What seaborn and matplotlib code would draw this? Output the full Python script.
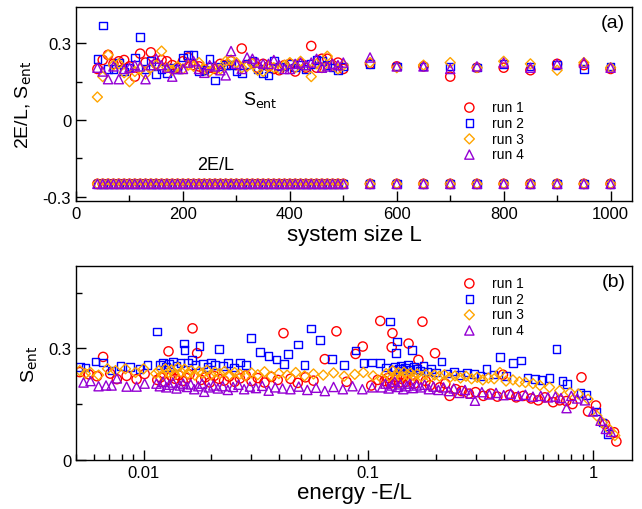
import matplotlib
matplotlib.use("Agg")
import matplotlib.pyplot as plt
import matplotlib.ticker as mticker
import seaborn as sns
import pandas as pd

# ---- panel (a): S_ent and 2E/L vs system size L ----
L = [40, 50, 60, 70, 80, 90, 100, 110, 120, 130, 140, 150, 160, 170, 180, 190,
     200, 210, 220, 230, 240, 250, 260, 270, 280, 290, 300, 310, 320, 330, 340,
     350, 360, 370, 380, 390, 400, 410, 420, 430, 440, 450, 460, 470, 480, 490,
     500, 550, 600, 650, 700, 750, 800, 850, 900, 950, 1000]

sent_a1 = [0.200, 0.235, 0.255, 0.220, 0.230, 0.235, 0.210, 0.170, 0.260, 0.225,
           0.265, 0.220, 0.235, 0.230, 0.215, 0.205, 0.230, 0.245, 0.215, 0.210,
           0.195, 0.205, 0.200, 0.220, 0.215, 0.230, 0.215, 0.280, 0.215, 0.225,
           0.205, 0.220, 0.210, 0.200, 0.195, 0.215, 0.220, 0.190, 0.220, 0.205,
           0.290, 0.205, 0.240, 0.240, 0.215, 0.225, 0.200,
           0.220, 0.210, 0.210, 0.170, 0.205, 0.205, 0.195, 0.220, 0.215, 0.200]
sent_a2 = [0.240, 0.370, 0.200, 0.200, 0.225, 0.190, 0.205, 0.245, 0.325, 0.200,
           0.230, 0.180, 0.200, 0.185, 0.205, 0.200, 0.245, 0.255, 0.255, 0.190,
           0.195, 0.240, 0.155, 0.210, 0.215, 0.215, 0.190, 0.185, 0.220, 0.230,
           0.200, 0.185, 0.175, 0.230, 0.210, 0.210, 0.220, 0.205, 0.215, 0.200,
           0.220, 0.235, 0.230, 0.215, 0.205, 0.195, 0.210,
           0.220, 0.210, 0.210, 0.210, 0.205, 0.220, 0.210, 0.215, 0.200, 0.210]
sent_a3 = [0.090, 0.170, 0.255, 0.215, 0.220, 0.185, 0.150, 0.190, 0.200, 0.180,
           0.205, 0.215, 0.270, 0.205, 0.195, 0.210, 0.200, 0.215, 0.210, 0.225,
           0.200, 0.190, 0.205, 0.200, 0.230, 0.235, 0.225, 0.205, 0.210, 0.220,
           0.195, 0.190, 0.210, 0.205, 0.200, 0.215, 0.225, 0.205, 0.230, 0.210,
           0.170, 0.220, 0.205, 0.250, 0.215, 0.200, 0.215,
           0.225, 0.205, 0.215, 0.225, 0.205, 0.230, 0.220, 0.195, 0.225, 0.205]
sent_a4 = [0.205, 0.190, 0.160, 0.210, 0.160, 0.200, 0.205, 0.215, 0.210, 0.160,
           0.215, 0.240, 0.215, 0.205, 0.170, 0.200, 0.200, 0.225, 0.230, 0.200,
           0.185, 0.215, 0.210, 0.195, 0.175, 0.270, 0.220, 0.200, 0.245, 0.240,
           0.225, 0.220, 0.220, 0.235, 0.215, 0.200, 0.200, 0.220, 0.225, 0.215,
           0.225, 0.240, 0.205, 0.210, 0.220, 0.215, 0.225,
           0.245, 0.210, 0.210, 0.200, 0.210, 0.225, 0.205, 0.220, 0.225, 0.205]
# 2E/L sits flat at about -0.25 for every run and every L
e2l = [-0.25] * len(L)

# ---- panel (b): S_ent vs energy -E/L ----
E1 = [0.0052, 0.0057, 0.0062, 0.0066, 0.0071, 0.0076, 0.0084, 0.0093, 0.0101,
      0.0115, 0.0119, 0.0124, 0.0129, 0.0133, 0.0138, 0.0143, 0.0149, 0.0155, 0.0160,
      0.0165, 0.0173, 0.0180, 0.0188, 0.0197, 0.0206, 0.0216, 0.0228, 0.0240, 0.0254,
      0.0268, 0.0285, 0.0302, 0.0322, 0.0345, 0.0370, 0.0395, 0.0419, 0.0450, 0.0485,
      0.0525, 0.0570, 0.0640, 0.0721, 0.0800, 0.0877, 0.0944, 0.1030, 0.1100,
      0.1130, 0.1180, 0.1220, 0.1250, 0.1270, 0.1280, 0.1310, 0.1340, 0.1370, 0.1400,
      0.1430, 0.1470, 0.1510, 0.1550, 0.1600, 0.1670, 0.1740, 0.1800, 0.1880, 0.1980,
      0.2080, 0.2200, 0.2300, 0.2450, 0.2600, 0.2800, 0.3000, 0.3250, 0.3500, 0.3750,
      0.3970, 0.4250, 0.4550, 0.4900, 0.5300, 0.5700, 0.6100, 0.6640, 0.7100, 0.7600,
      0.8100, 0.8880, 0.9500, 1.0300, 1.1300, 1.2400, 1.2700]
S1 = [0.236, 0.230, 0.225, 0.277, 0.232, 0.217, 0.226, 0.217, 0.231,
      0.215, 0.222, 0.210, 0.292, 0.225, 0.218, 0.228, 0.212, 0.220, 0.230,
      0.354, 0.287, 0.215, 0.222, 0.208, 0.226, 0.218, 0.213, 0.224, 0.210,
      0.219, 0.227, 0.212, 0.220, 0.208, 0.223, 0.215, 0.341, 0.218, 0.207,
      0.222, 0.213, 0.271, 0.346, 0.210, 0.285, 0.305, 0.200, 0.215,
      0.374, 0.212, 0.220, 0.205, 0.303, 0.341, 0.215, 0.222, 0.208, 0.218,
      0.225, 0.210, 0.313, 0.216, 0.205, 0.269, 0.372, 0.212, 0.200, 0.287,
      0.195, 0.205, 0.172, 0.190, 0.185, 0.178, 0.182, 0.172, 0.178, 0.170,
      0.229, 0.175, 0.168, 0.172, 0.165, 0.160, 0.168, 0.155, 0.160, 0.158,
      0.150, 0.222, 0.130, 0.146, 0.096, 0.074, 0.049]

E2 = [0.0052, 0.0055, 0.0061, 0.0066, 0.0072, 0.0079, 0.0087, 0.0096, 0.0104,
      0.0115, 0.0118, 0.0122, 0.0126, 0.0130, 0.0135, 0.0140, 0.0146, 0.0151, 0.0152,
      0.0158, 0.0164, 0.0170, 0.0177, 0.0184, 0.0192, 0.0200, 0.0208, 0.0216, 0.0226,
      0.0238, 0.0252, 0.0268, 0.0285, 0.0300, 0.0330, 0.0360, 0.0390, 0.0420, 0.0440,
      0.0487, 0.0520, 0.0555, 0.0609, 0.0690, 0.0780, 0.0877, 0.0950, 0.1040, 0.1130,
      0.1200, 0.1250, 0.1280, 0.1310, 0.1330, 0.1340, 0.1370, 0.1400, 0.1430, 0.1460,
      0.1500, 0.1530, 0.1560, 0.1600, 0.1650, 0.1700, 0.1760, 0.1830, 0.1900, 0.2000,
      0.2120, 0.2250, 0.2400, 0.2550, 0.2750, 0.2960, 0.3150, 0.3360, 0.3600, 0.3850,
      0.4100, 0.4390, 0.4770, 0.5100, 0.5500, 0.5900, 0.6400, 0.6880, 0.7300, 0.7660,
      0.8790, 0.9300, 1.0300, 1.1000, 1.1600]
S2 = [0.250, 0.248, 0.265, 0.262, 0.240, 0.252, 0.250, 0.245, 0.255,
      0.346, 0.255, 0.262, 0.250, 0.258, 0.265, 0.252, 0.260, 0.313, 0.295,
      0.262, 0.268, 0.255, 0.307, 0.258, 0.250, 0.262, 0.255, 0.299, 0.252,
      0.260, 0.248, 0.262, 0.255, 0.328, 0.290, 0.280, 0.270, 0.258, 0.285,
      0.310, 0.255, 0.354, 0.323, 0.271, 0.255, 0.294, 0.260, 0.262, 0.260,
      0.248, 0.372, 0.242, 0.250, 0.287, 0.319, 0.245, 0.252, 0.240, 0.248,
      0.255, 0.243, 0.296, 0.250, 0.245, 0.240, 0.252, 0.238, 0.245, 0.235,
      0.265, 0.232, 0.238, 0.228, 0.235, 0.231, 0.225, 0.244, 0.230, 0.276,
      0.225, 0.260, 0.267, 0.222, 0.218, 0.215, 0.220, 0.298, 0.212, 0.204,
      0.180, 0.175, 0.130, 0.100, 0.069]

E3 = [0.0052, 0.0055, 0.0058, 0.0063, 0.0069, 0.0075, 0.0083, 0.0092, 0.0100,
      0.0113, 0.0117, 0.0121, 0.0125, 0.0129, 0.0133, 0.0137, 0.0142, 0.0147, 0.0152,
      0.0157, 0.0163, 0.0169, 0.0176, 0.0183, 0.0191, 0.0199, 0.0208, 0.0218, 0.0229,
      0.0241, 0.0254, 0.0268, 0.0284, 0.0302, 0.0322, 0.0345, 0.0370, 0.0400, 0.0435,
      0.0475, 0.0520, 0.0570, 0.0630, 0.0700, 0.0780, 0.0870, 0.0950, 0.1050,
      0.1150, 0.1200, 0.1240, 0.1280, 0.1320, 0.1360, 0.1400, 0.1440, 0.1490, 0.1540,
      0.1590, 0.1650, 0.1720, 0.1800, 0.1880, 0.1970, 0.2070, 0.2180, 0.2300, 0.2430,
      0.2570, 0.2720, 0.2880, 0.3050, 0.3230, 0.3420, 0.3630, 0.3850, 0.4100, 0.4400,
      0.4700, 0.5000, 0.5400, 0.5800, 0.6400, 0.7100, 0.7900, 0.8600, 0.9500, 1.0400,
      1.1000, 1.1800, 1.2500]
S3 = [0.240, 0.232, 0.235, 0.228, 0.245, 0.240, 0.245, 0.235, 0.245,
      0.232, 0.240, 0.228, 0.245, 0.235, 0.242, 0.230, 0.248, 0.236, 0.244,
      0.232, 0.240, 0.228, 0.238, 0.233, 0.241, 0.229, 0.236, 0.232, 0.238,
      0.228, 0.235, 0.231, 0.226, 0.234, 0.229, 0.237, 0.225, 0.232, 0.228,
      0.235, 0.226, 0.231, 0.228, 0.234, 0.225, 0.230, 0.235, 0.226,
      0.218, 0.232, 0.225, 0.240, 0.228, 0.235, 0.222, 0.236, 0.229, 0.233,
      0.226, 0.231, 0.224, 0.230, 0.222, 0.228, 0.225, 0.229, 0.221, 0.226,
      0.220, 0.225, 0.218, 0.222, 0.215, 0.220, 0.218, 0.235, 0.212, 0.215,
      0.210, 0.208, 0.205, 0.200, 0.195, 0.186, 0.181, 0.177, 0.163, 0.118,
      0.100, 0.082, 0.065]

E4 = [0.0054, 0.0058, 0.0063, 0.0068, 0.0072, 0.0076, 0.0084, 0.0093, 0.0101,
      0.0114, 0.0118, 0.0122, 0.0126, 0.0130, 0.0135, 0.0140, 0.0145, 0.0150, 0.0156,
      0.0162, 0.0168, 0.0175, 0.0182, 0.0186, 0.0195, 0.0204, 0.0214, 0.0225, 0.0237,
      0.0250, 0.0264, 0.0280, 0.0297, 0.0316, 0.0337, 0.0360, 0.0385, 0.0415, 0.0450,
      0.0490, 0.0535, 0.0585, 0.0640, 0.0700, 0.0770, 0.0850, 0.0940, 0.1040,
      0.1150, 0.1190, 0.1230, 0.1270, 0.1310, 0.1350, 0.1390, 0.1430, 0.1480, 0.1530,
      0.1580, 0.1640, 0.1710, 0.1780, 0.1860, 0.1950, 0.2050, 0.2160, 0.2280, 0.2400,
      0.2540, 0.2690, 0.2850, 0.2980, 0.3200, 0.3450, 0.3700, 0.4000, 0.4300, 0.4650,
      0.5000, 0.5400, 0.5850, 0.6300, 0.6800, 0.7200, 0.7620, 0.8000, 0.8500, 0.9200,
      1.0000, 1.0800, 1.1400, 1.2000]
S4 = [0.208, 0.212, 0.198, 0.200, 0.200, 0.219, 0.197, 0.197, 0.205,
      0.205, 0.198, 0.210, 0.195, 0.202, 0.208, 0.192, 0.200, 0.205, 0.196,
      0.203, 0.190, 0.198, 0.205, 0.183, 0.195, 0.200, 0.192, 0.198, 0.188,
      0.196, 0.202, 0.190, 0.197, 0.193, 0.199, 0.186, 0.195, 0.192, 0.190,
      0.197, 0.188, 0.194, 0.185, 0.196, 0.190, 0.198, 0.190, 0.195,
      0.195, 0.205, 0.192, 0.200, 0.210, 0.196, 0.203, 0.190, 0.198, 0.205,
      0.193, 0.200, 0.195, 0.202, 0.190, 0.197, 0.188, 0.195, 0.185, 0.192,
      0.180, 0.188, 0.178, 0.159, 0.182, 0.176, 0.180, 0.174, 0.178, 0.172,
      0.175, 0.170, 0.172, 0.168, 0.170, 0.166, 0.139, 0.172, 0.165, 0.160,
      0.130, 0.105, 0.083, 0.075]

runs = ["run 1", "run 2", "run 3", "run 4"]
colors = ["#ff0000", "#0000ff", "#ffa500", "#9400d3"]
markers = ["o", "s", "D", "^"]
sizes = [44, 30, 26, 44]

sns.set_style("ticks")
plt.rcParams["font.family"] = ["Liberation Sans", "DejaVu Sans"]
plt.rcParams["axes.unicode_minus"] = False
plt.rcParams["axes.linewidth"] = 1.0
for key in ["text.color", "axes.labelcolor", "axes.edgecolor",
            "xtick.color", "ytick.color"]:
    plt.rcParams[key] = "black"

fig = plt.figure(figsize=(6.42, 5.10), dpi=100)
ax1 = fig.add_axes([0.1184, 0.604, 0.866, 0.380])
ax2 = fig.add_axes([0.1184, 0.0967, 0.866, 0.379])

sent_a = [sent_a1, sent_a2, sent_a3, sent_a4]
for run, s, c, m, sz in zip(runs, sent_a, colors, markers, sizes):
    df = pd.DataFrame({"L": L, "S": s, "E2L": e2l})
    sns.scatterplot(data=df, x="L", y="S", ax=ax1, marker=m, s=sz, color=c,
                    facecolor="none", edgecolor=c, linewidth=1.0, label=run)
    sns.scatterplot(data=df, x="L", y="E2L", ax=ax1, marker=m, s=sz, color=c,
                    facecolor="none", edgecolor=c, linewidth=1.0, legend=False)

E_b = [E1, E2, E3, E4]
S_b = [S1, S2, S3, S4]
for run, e, s, c, m, sz in zip(runs, E_b, S_b, colors, markers, sizes):
    df = pd.DataFrame({"E": e, "S": s})
    sns.scatterplot(data=df, x="E", y="S", ax=ax2, marker=m, s=sz, color=c,
                    facecolor="none", edgecolor=c, linewidth=1.0, label=run)

fmt = mticker.FuncFormatter(lambda v, p: f"{v:g}")

ax1.set_xlim(0, 1040)
ax1.set_ylim(-0.317, 0.442)
ax1.xaxis.set_major_locator(mticker.MultipleLocator(200))
ax1.xaxis.set_minor_locator(mticker.MultipleLocator(100))
ax1.yaxis.set_major_locator(mticker.MultipleLocator(0.3))
ax1.yaxis.set_minor_locator(mticker.MultipleLocator(0.15))
ax1.yaxis.set_major_formatter(fmt)
ax1.set_xlabel("system size L", fontsize=16, labelpad=2)
ax1.set_ylabel("2E/L, S$_{\\rm ent}$", fontsize=14, labelpad=6)
ax1.text(312, 0.081, "S$_{\\rm ent}$", fontsize=13, va="center")
ax1.text(226, -0.174, "2E/L", fontsize=13, va="center")
ax1.text(0.988, 0.965, "(a)", transform=ax1.transAxes, fontsize=14,
         ha="right", va="top")

ax2.set_xscale("log")
ax2.set_xlim(0.005, 1.49)
ax2.set_ylim(0, 0.521)
ax2.xaxis.set_major_locator(mticker.FixedLocator([0.01, 0.1, 1]))
ax2.xaxis.set_major_formatter(fmt)
ax2.xaxis.set_minor_locator(mticker.LogLocator(base=10, subs=range(2, 10)))
ax2.xaxis.set_minor_formatter(mticker.NullFormatter())
ax2.yaxis.set_major_locator(mticker.MultipleLocator(0.3))
ax2.yaxis.set_minor_locator(mticker.MultipleLocator(0.15))
ax2.yaxis.set_major_formatter(fmt)
ax2.set_xlabel("energy -E/L", fontsize=16, labelpad=2)
ax2.set_ylabel("S$_{\\rm ent}$", fontsize=14, labelpad=6)
ax2.text(0.988, 0.965, "(b)", transform=ax2.transAxes, fontsize=14,
         ha="right", va="top")

for ax in (ax1, ax2):
    ax.tick_params(which="major", direction="in", length=7, width=1.0,
                   labelsize=12, top=False, right=False)
    ax.tick_params(which="minor", direction="in", length=4, width=1.0,
                   top=False, right=False)
    for sp in ax.spines.values():
        sp.set_visible(True)
        sp.set_linewidth(1.0)
        sp.set_color("black")

ax1.legend(loc="upper left", bbox_to_anchor=(0.675, 0.57), frameon=False,
           fontsize=10, handletextpad=1.0, labelspacing=0.12, borderpad=0.2,
           handlelength=1.2)
ax2.legend(loc="upper left", bbox_to_anchor=(0.675, 1.0), frameon=False,
           fontsize=10, handletextpad=1.0, labelspacing=0.12, borderpad=0.2,
           handlelength=1.2)

fig.savefig("out.png", dpi=100)
